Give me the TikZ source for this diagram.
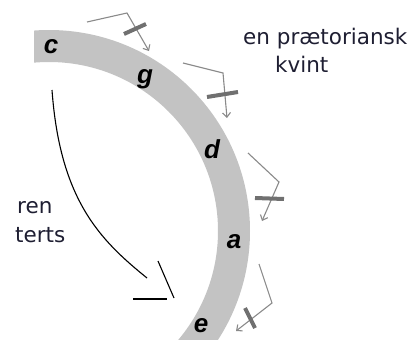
\documentclass[tikz,border=0pt]{standalone}
\usepackage{fontspec}
\setmainfont{DejaVu Sans}
\newfontfamily\notefont{Liberation Sans}
\usetikzlibrary{arrows.meta}
\definecolor{bandgray}{HTML}{C3C3C3}
\definecolor{arrgray}{HTML}{8A8A8A}
\definecolor{bargray}{HTML}{707070}
\definecolor{txtcol}{HTML}{1E1E32}
\tikzset{
  notelabel/.style={font=\notefont\bfseries\itshape\fontsize{26}{26}\selectfont, inner sep=0pt, anchor=base, text=black},
  remark/.style={font=\fontsize{21.5}{24}\selectfont, inner sep=0pt, anchor=base west, text=txtcol},
  fifth/.style={draw=arrgray, line width=1.1pt, line join=miter, -{Straight Barb[length=4.5pt,width=8pt]}},
  crossbar/.style={draw=bargray, line width=4pt},
  thirdline/.style={draw=black, line width=1.1pt}
}
\begin{document}
\begin{tikzpicture}[x=1pt,y=-1pt]
\useasboundingbox (0,0) rectangle (413,340);
% band
\begin{scope}
  \clip (34,0) rectangle (413,340);
  \fill[bandgray, even odd rule] (49,231) circle[radius=201] (49,231) circle[radius=169];
\end{scope}
% note labels
\node[notelabel] (c) at (51,53) {c};
\node[notelabel] (g) at (145,83) {g};
\node[notelabel] (d) at (212,158) {d};
\node[notelabel] (a) at (234,248) {a};
\node[notelabel] (e) at (201,332) {e};
% texts
\node[remark] (t1) at (243,45) {en prætoriansk};
\node[remark] (t2) at (275,72) {kvint};
\node[remark] (t3) at (17,213) {ren};
\node[remark] (t4) at (15,242) {terts};
% fifth arrows
\coordinate (f1s) at (87,22); \coordinate (f1c) at (127,13); \coordinate (f1t) at (149,51);
\coordinate (f2s) at (183,63); \coordinate (f2c) at (223,73); \coordinate (f2t) at (227,118);
\coordinate (f3s) at (248,153); \coordinate (f3c) at (279,182); \coordinate (f3t) at (262,221);
\coordinate (f4s) at (259,264); \coordinate (f4c) at (272,303); \coordinate (f4t) at (236,331);
\draw[fifth] (f1s) -- (f1c) -- (f1t);
\draw[fifth] (f2s) -- (f2c) -- (f2t);
\draw[fifth] (f3s) -- (f3c) -- (f3t);
\draw[fifth] (f4s) -- (f4c) -- (f4t);
% cross bars
\coordinate (b1a) at (124,34); \coordinate (b1b) at (146,24);
\coordinate (b2a) at (207,97); \coordinate (b2b) at (238,92);
\coordinate (b3a) at (255,198); \coordinate (b3b) at (284,199);
\coordinate (b4a) at (245,308); \coordinate (b4b) at (255,328);
\draw[crossbar] (b1a) -- (b1b);
\draw[crossbar] (b2a) -- (b2b);
\draw[crossbar] (b3a) -- (b3b);
\draw[crossbar] (b4a) -- (b4b);
% third arrow
\coordinate (r0) at (52,90);
\coordinate (r1) at (147,278);
\coordinate (rtip) at (174,298);
\coordinate (rb1) at (158,261);
\coordinate (rb2) at (133,299);
\draw[thirdline] (r0) .. controls (60,200) and (100,240) .. (r1);
\draw[thirdline] (rb1) -- (rtip);
\draw[thirdline] (rb2) -- (167,299);
\end{tikzpicture}
\end{document}
